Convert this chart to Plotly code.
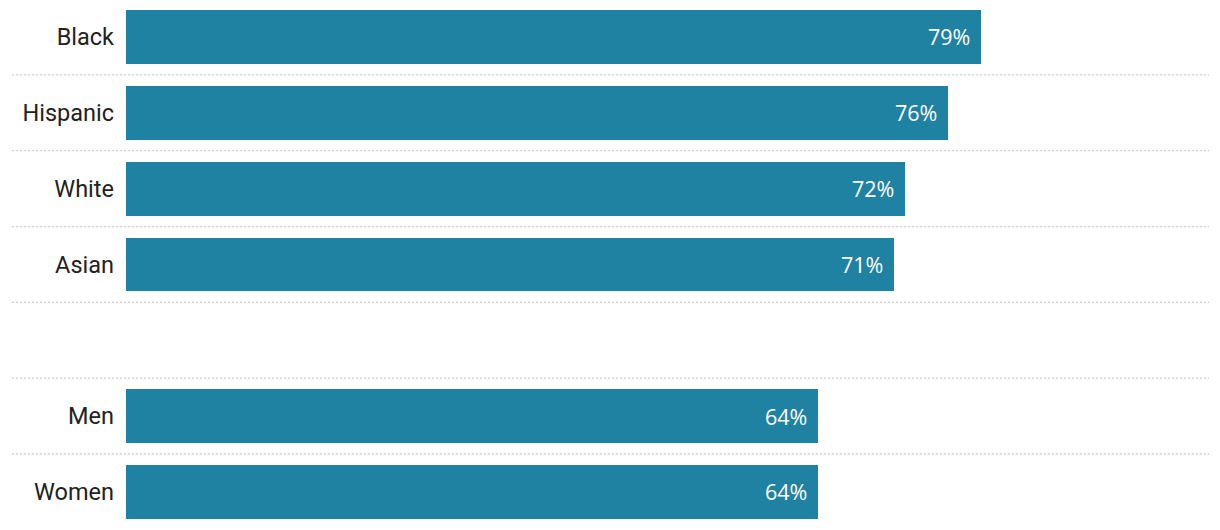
import plotly.graph_objects as go

categories = ["Black", "Hispanic", "White", "Asian", " ", "Men", "Women"]
values = [79, 76, 72, 71, None, 64, 64]
value_labels = ["79%", "76%", "72%", "71%", "", "64%", "64%"]

BAR_COLOR = "#1F82A3"

fig = go.Figure()
fig.add_trace(go.Bar(
    x=values,
    y=categories,
    orientation="h",
    marker=dict(color=BAR_COLOR, line=dict(width=0)),
    width=0.71,
    hoverinfo="skip",
))

for cat, v, lab in zip(categories, values, value_labels):
    if v is None:
        continue
    fig.add_annotation(
        x=v, y=cat, text=lab, showarrow=False,
        xanchor="right", yanchor="middle", xshift=-9,
        font=dict(family="Open Sans, sans-serif", size=21.5, color="white"),
    )

# dotted separators between rows
for i in range(len(categories) - 1):
    fig.add_shape(
        type="line", xref="paper", yref="y",
        x0=-0.1055, x1=1.0010, y0=i + 0.5, y1=i + 0.5,
        line=dict(color="#cccccc", width=1.3, dash="2px,2px"),
        layer="below",
    )

fig.update_layout(
    width=1212, height=522,
    margin=dict(l=118, r=12, t=0, b=0, autoexpand=False),
    paper_bgcolor="white", plot_bgcolor="white",
    showlegend=False,
    bargap=0,
    xaxis=dict(range=[0, 100], visible=False, fixedrange=True),
    yaxis=dict(
        categoryorder="array", categoryarray=categories,
        range=[6.502, -0.382],
        showgrid=False, zeroline=False, showline=False,
        ticks="", ticklabelstandoff=11, automargin=False,
        tickfont=dict(family="Roboto, sans-serif", size=23.5, color="#222222"),
        fixedrange=True,
    ),
)

fig.write_html("out.html")
